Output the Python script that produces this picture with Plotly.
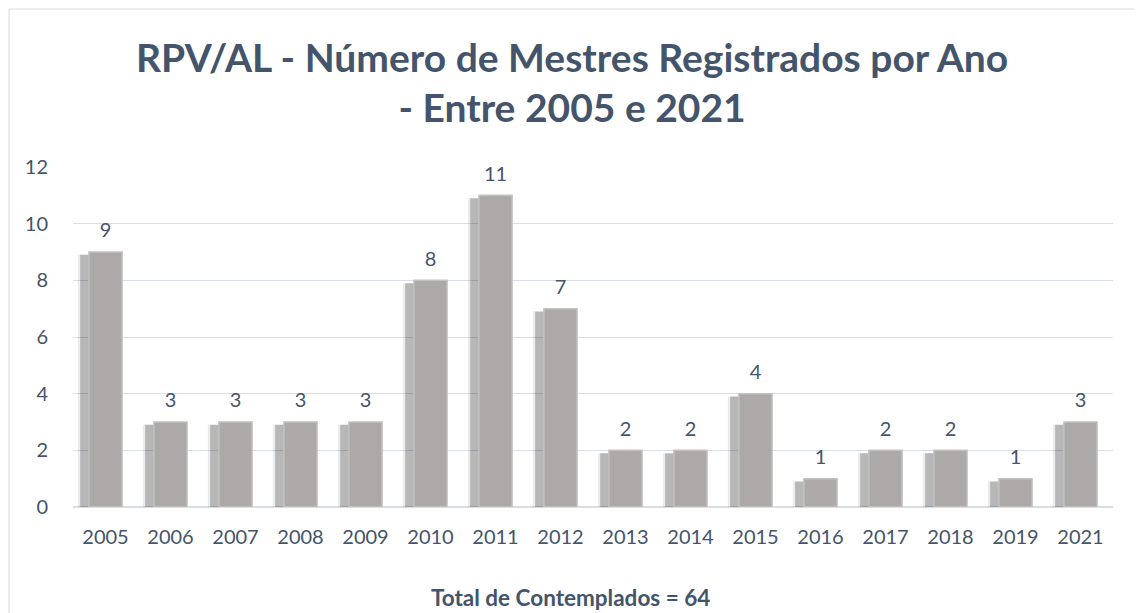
import plotly.graph_objects as go

anos = ["2005", "2006", "2007", "2008", "2009", "2010", "2011", "2012",
        "2013", "2014", "2015", "2016", "2017", "2018", "2019", "2021"]
mestres = [9, 3, 3, 3, 3, 8, 11, 7, 2, 2, 4, 1, 2, 2, 1, 3]
y_ticks = [0, 2, 4, 6, 8, 10, 12]

titulo = "RPV/AL - Número de Mestres Registrados por Ano<br>- Entre 2005 e 2021"
rodape = "Total de Contemplados = " + str(sum(mestres))

TXT = "#44546A"
FONT = "Lato"
W = 0.51

fig = go.Figure()
# soft shadow layers
fig.add_trace(go.Bar(x=anos, y=mestres, base=-0.1, width=W, offset=-0.425,
                     marker=dict(color="rgba(0,0,0,0.08)", line=dict(width=0)),
                     hoverinfo="skip", showlegend=False))
fig.add_trace(go.Bar(x=anos, y=mestres, base=-0.1, width=W, offset=-0.39,
                     marker=dict(color="rgba(0,0,0,0.22)", line=dict(width=0)),
                     hoverinfo="skip", showlegend=False))
# main bars
fig.add_trace(go.Bar(x=anos, y=mestres, width=W, offset=-0.255,
                     marker=dict(color="#ADA9A8", line=dict(color="#C4C1C0", width=1.5)),
                     showlegend=False))
# data labels
fig.add_trace(go.Scatter(x=anos, y=mestres, mode="markers+text", text=[str(v) for v in mestres],
                         textposition="top center", marker=dict(size=14, opacity=0),
                         textfont=dict(family=FONT, size=20, color=TXT),
                         hoverinfo="skip", showlegend=False, cliponaxis=False))

fig.add_annotation(x=0.478, y=-0.312, xref="paper", yref="paper", text="<b>" + rodape + "</b>",
                   showarrow=False, font=dict(family=FONT, size=22.5, color=TXT))

# outer chart border
fig.add_shape(type="rect", xref="paper", yref="paper", x0=-0.0615, y0=-0.5, x1=1.2, y1=1.4647,
              line=dict(color="#D9D9D9", width=1), layer="below")

fig.update_layout(
    width=1142, height=613,
    margin=dict(l=65, r=37, t=159, b=114),
    paper_bgcolor="white", plot_bgcolor="white",
    barmode="overlay",
    title=dict(text="<b>" + titulo + "</b>", x=0.4939, xref="container", xanchor="center",
               y=0.896, yref="container", yanchor="top",
               font=dict(family=FONT, size=39, color=TXT)),
    xaxis=dict(type="category", range=[-0.5, len(anos) - 0.5], automargin=False,
               tickfont=dict(family=FONT, size=20, color=TXT), ticks="",
               showgrid=False, showline=False, zeroline=False, ticklabelstandoff=16),
    yaxis=dict(range=[0, 12], tickvals=y_ticks, automargin=False,
               tickfont=dict(family=FONT, size=20, color=TXT),
               showgrid=True, gridcolor="#D9DEE4", gridwidth=1, zeroline=True,
               zerolinecolor="#D9DEE4", zerolinewidth=1.5, ticks="", ticklabelstandoff=24,
               showline=False),
)

fig.write_html("out.html")
